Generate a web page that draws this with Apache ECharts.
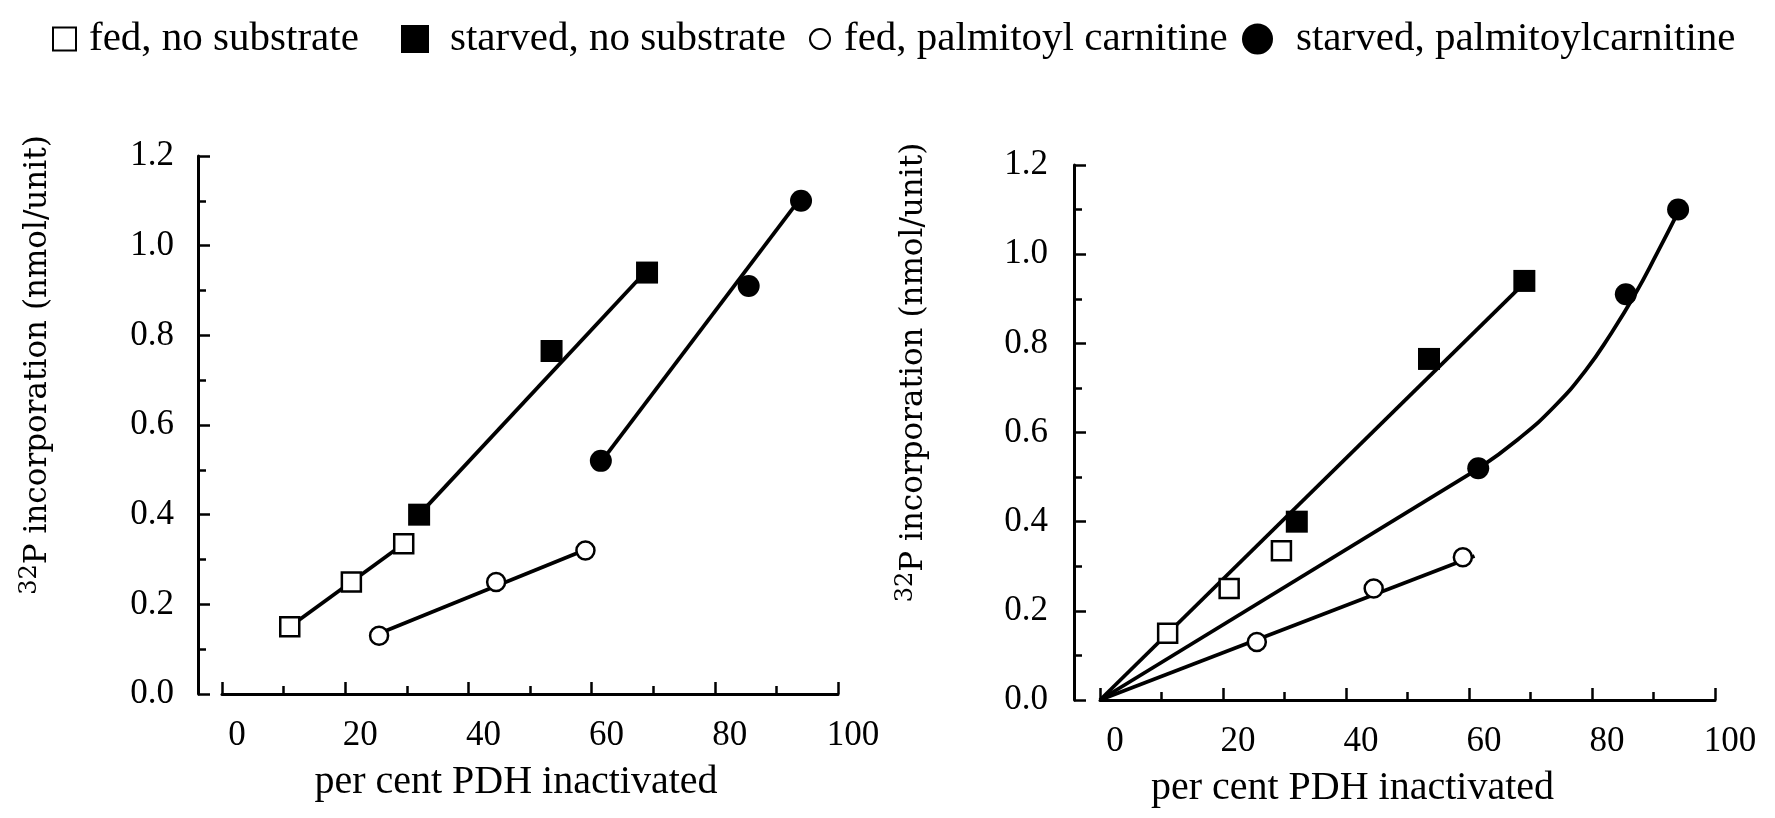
<!DOCTYPE html>
<html>
<head>
<meta charset="utf-8">
<script src="https://cdn.jsdelivr.net/npm/echarts@6/dist/echarts.min.js"></script>
<style>
  html, body { margin: 0; padding: 0; background: #fff; }
  #chart { width: 1775px; height: 818px; }
</style>
</head>
<body>
<div id="chart"></div>
<script>
// Condition names (legend order)
const seriesNames = [
  'fed, no substrate',
  'starved, no substrate',
  'fed, palmitoyl carnitine',
  'starved, palmitoylcarnitine'
];

// Measured points: x = per cent PDH inactivated, y = 32P incorporation (nmol/unit)
const fedNoSubX = [11, 21, 29.5];
const fedNoSubY = [0.15, 0.25, 0.335];
const starvedNoSubX = [32, 53.5, 69];
const starvedNoSubY = [0.40, 0.765, 0.94];
const fedPalX = [25.5, 44.5, 59];
const fedPalY = [0.13, 0.25, 0.32];
const starvedPalX = [61.5, 85.5, 94];
const starvedPalY = [0.52, 0.91, 1.10];

// Left panel: a fitted line for each condition (end points)
const fitFedNoSubX = [11, 29.5];
const fitFedNoSubY = [0.15, 0.335];
const fitStarvedNoSubX = [32, 69];
const fitStarvedNoSubY = [0.40, 0.945];
const fitFedPalX = [25.5, 59];
const fitFedPalY = [0.135, 0.322];
const fitStarvedPalX = [62, 93.8];
const fitStarvedPalY = [0.526, 1.104];

// Right panel: lines drawn through the origin
const originNoSubX = [0, 68.4];
const originNoSubY = [0, 0.927];
const originFedPalX = [0, 60.9];
const originFedPalY = [0, 0.323];
const originStarvedPalX = [0, 61.4];
const originStarvedPalY = [0, 0.518];
// upward-bending continuation of the starved, palmitoylcarnitine line
const curveStarvedPalX = [61.4, 68, 74, 79, 83, 87, 90.5, 94.2];
const curveStarvedPalY = [0.518, 0.585, 0.66, 0.74, 0.82, 0.91, 1.0, 1.10];

// Axis ticks
const xTicks = [0, 20, 40, 60, 80, 100];
const yTicks = ['0.0', '0.2', '0.4', '0.6', '0.8', '1.0', '1.2'];

const pairs = (xs, ys) => xs.map((x, i) => [x, ys[i]]);

const SERIF = 'Liberation Serif';
const markerStyles = [
  { symbol: 'rect', symbolSize: 19, itemStyle: { opacity: 1, color: '#fff', borderColor: '#000', borderWidth: 2.5 } },
  { symbol: 'rect', symbolSize: 22, itemStyle: { opacity: 1, color: '#000', borderColor: '#000', borderWidth: 0 } },
  { symbol: 'circle', symbolSize: 18, itemStyle: { opacity: 1, color: '#fff', borderColor: '#000', borderWidth: 2.5 } },
  { symbol: 'circle', symbolSize: 22, itemStyle: { opacity: 1, color: '#000', borderColor: '#000', borderWidth: 0 } }
];
const pointSets = [
  pairs(fedNoSubX, fedNoSubY),
  pairs(starvedNoSubX, starvedNoSubY),
  pairs(fedPalX, fedPalY),
  pairs(starvedPalX, starvedPalY)
];

function xAxisFor(gridIndex, namePadRight) {
  return {
    type: 'value', gridIndex,
    min: xTicks[0], max: xTicks[xTicks.length - 1], interval: xTicks[1] - xTicks[0],
    name: 'per cent PDH inactivated',
    nameLocation: 'middle', nameGap: 68,
    nameTextStyle: { fontFamily: SERIF, fontSize: 40, color: '#000', padding: [0, namePadRight, 0, 0] },
    axisLine: { onZero: false, lineStyle: { color: '#000', width: 3 } },
    axisTick: { inside: true, length: 12, lineStyle: { color: '#000', width: 2.5 } },
    minorTick: { show: true, splitNumber: 2, length: 8, lineStyle: { color: '#000', width: 2.5 } },
    axisLabel: {
      fontFamily: SERIF, fontSize: 35, color: '#000', margin: 24,
      padding: [0, 0, 0, 30],
      formatter: v => (xTicks.includes(v) ? String(v) : '')
    },
    splitLine: { show: false }
  };
}

function yAxisFor(gridIndex, offset, labelMargin) {
  return {
    type: 'value', gridIndex, offset,
    min: 0, max: Number(yTicks[yTicks.length - 1]), interval: 0.2,
    name: '{sup|32}P incorporation (nmol/unit)',
    nameLocation: 'middle', nameGap: 140, nameRotate: 90,
    nameTextStyle: {
      fontFamily: 'DejaVu Serif', fontSize: 31, color: '#000',
      padding: [0, 0, 0, 120],
      rich: {
        sup: { fontFamily: 'DejaVu Serif', fontSize: 24, color: '#000', verticalAlign: 'top', lineHeight: 40 }
      }
    },
    axisLine: { show: true, onZero: false, lineStyle: { color: '#000', width: 3 } },
    axisTick: { inside: true, length: 12, lineStyle: { color: '#000', width: 2.5 } },
    minorTick: { show: true, splitNumber: 2, length: 8, lineStyle: { color: '#000', width: 2.5 } },
    axisLabel: {
      fontFamily: SERIF, fontSize: 35, color: '#000', margin: labelMargin,
      padding: [0, 0, 14, 0],
      formatter: v => yTicks[Math.round(v / 0.2)]
    },
    splitLine: { show: false }
  };
}

function lineSeries(xIdx, data, smooth) {
  return {
    type: 'line', xAxisIndex: xIdx, yAxisIndex: xIdx, data,
    symbol: 'none', smooth: smooth || false, silent: true, z: 2,
    lineStyle: { color: '#000', width: 3.8 }
  };
}

const series = [];
[0, 1].forEach(g => {
  seriesNames.forEach((name, i) => {
    series.push(Object.assign({
      type: 'scatter', name, xAxisIndex: g, yAxisIndex: g, data: pointSets[i], z: 5
    }, markerStyles[i]));
  });
});
series.push(lineSeries(0, pairs(fitFedNoSubX, fitFedNoSubY)));
series.push(lineSeries(0, pairs(fitStarvedNoSubX, fitStarvedNoSubY)));
series.push(lineSeries(0, pairs(fitFedPalX, fitFedPalY)));
series.push(lineSeries(0, pairs(fitStarvedPalX, fitStarvedPalY)));
series.push(lineSeries(1, pairs(originNoSubX, originNoSubY)));
series.push(lineSeries(1, pairs(originFedPalX, originFedPalY)));
series.push(lineSeries(1, pairs(originStarvedPalX, originStarvedPalY)));
series.push(lineSeries(1, pairs(curveStarvedPalX, curveStarvedPalY), 0.5));

// one legend block per condition, laid out along the top
const legendSpots = [
  { left: 47, size: 23, pad: 8 },
  { left: 396, size: 28, pad: 16 },
  { left: 804, size: 20, pad: 9 },
  { left: 1237, size: 31, pad: 18 }
];
const legends = seriesNames.map((name, i) => ({
  data: [name],
  left: legendSpots[i].left, top: 13,
  itemWidth: legendSpots[i].size, itemHeight: legendSpots[i].size,
  selectedMode: false,
  textStyle: { fontFamily: SERIF, fontSize: 41, color: '#000', lineHeight: 42, padding: [0, 0, 0, legendSpots[i].pad] }
}));

const chart = echarts.init(document.getElementById('chart'), null, { renderer: 'canvas' });
chart.setOption({
  backgroundColor: '#fff',
  animation: false,
  legend: legends,
  grid: [
    { left: 222, top: 156, width: 616, height: 538 },
    { left: 1100, top: 165, width: 615, height: 535 }
  ],
  xAxis: [xAxisFor(0, 28), xAxisFor(1, 110)],
  yAxis: [yAxisFor(0, 24, 24), yAxisFor(1, 26, 26)],
  series
});
</script>
</body>
</html>
